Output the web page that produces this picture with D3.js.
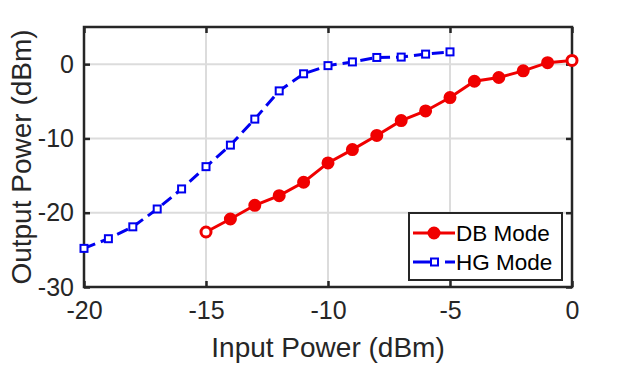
<!DOCTYPE html>
<html><head><meta charset="utf-8">
<script src="https://cdn.jsdelivr.net/npm/d3@7/dist/d3.min.js"></script>
<style>body{margin:0;background:#fff}svg{display:block}text{font-family:"Liberation Sans",Arial,sans-serif}</style>
</head><body><svg id="c" width="632" height="365"></svg>
<script>
const dbX = [-15,-14,-13,-12,-11,-10,-9,-8,-7,-6,-5,-4,-3,-2,-1,0];
const dbY = [-22.6,-20.85,-19.0,-17.7,-15.9,-13.3,-11.5,-9.6,-7.6,-6.3,-4.5,-2.3,-1.8,-0.9,0.2,0.5];
const hgX = [-20,-19,-18,-17,-16,-15,-14,-13,-12,-11,-10,-9,-8,-7,-6,-5];
const hgY = [-24.8,-23.5,-21.9,-19.5,-16.8,-13.8,-10.9,-7.4,-3.6,-1.3,-0.2,0.3,0.9,0.95,1.35,1.65];
const xTicks = [-20,-15,-10,-5,0];
const yTicks = [-30,-20,-10,0];
const seriesNames = ["DB Mode","HG Mode"];

const svg = d3.select("#c");
const L=84, R=572, T=27, B=287;
const x = d3.scaleLinear().domain([-20,0]).range([L,R]);
const y = d3.scaleLinear().domain([-30,5]).range([B,T]);
const fmt = d => String(d);

// grid
const g = svg.append("g");
g.selectAll(".vg").data(xTicks).join("line").attr("x1",d=>x(d)).attr("x2",d=>x(d)).attr("y1",T).attr("y2",B)
  .attr("stroke","#dcdcdc").attr("stroke-width",2);
g.selectAll(".hg").data(yTicks).join("line").attr("y1",d=>y(d)).attr("y2",d=>y(d)).attr("x1",L).attr("x2",R)
  .attr("stroke","#dcdcdc").attr("stroke-width",2);

// axes with inward ticks
const ax = svg.append("g").attr("transform",`translate(0,${B})`).call(d3.axisBottom(x).tickValues(xTicks).tickSizeInner(-6).tickSizeOuter(0).tickPadding(14).tickFormat(fmt));
const ay = svg.append("g").attr("transform",`translate(${L},0)`).call(d3.axisLeft(y).tickValues(yTicks).tickSizeInner(-6).tickSizeOuter(0).tickPadding(10).tickFormat(fmt));
const axT = svg.append("g").attr("transform",`translate(0,${T})`).call(d3.axisTop(x).tickValues(xTicks).tickSizeInner(-6).tickSizeOuter(0).tickFormat(""));
const ayR = svg.append("g").attr("transform",`translate(${R},0)`).call(d3.axisRight(y).tickValues(yTicks).tickSizeInner(-6).tickSizeOuter(0).tickFormat(""));
[ax,ay,axT,ayR].forEach(a=>{a.select(".domain").remove();a.selectAll(".tick line").attr("stroke","#262626").attr("stroke-width",2.5);
  a.selectAll(".tick text").attr("font-size",25).attr("fill","#262626").attr("font-family","Liberation Sans, Arial, sans-serif");});
ax.selectAll(".tick text").attr("dy","0.71em");
svg.append("rect").attr("x",L).attr("y",T).attr("width",R-L).attr("height",B-T).attr("fill","none").attr("stroke","#262626").attr("stroke-width",2.5);

// titles
svg.append("text").attr("x",(L+R)/2).attr("y",357).attr("text-anchor","middle").attr("font-size",28).attr("fill","#262626").text("Input Power (dBm)");
svg.append("text").attr("transform",`translate(31,${(T+B)/2}) rotate(-90)`).attr("text-anchor","middle").attr("font-size",28).attr("fill","#262626").text("Output Power (dBm)");

// HG series
const hg = hgX.map((v,i)=>[v,hgY[i]]);
svg.append("path").attr("d",d3.line().x(d=>x(d[0])).y(d=>y(d[1]))(hg)).attr("fill","none").attr("stroke","#0000f0").attr("stroke-width",3).attr("stroke-dasharray","12,6");
svg.selectAll(".hgm").data(hg).join("rect").attr("x",d=>x(d[0])-3.5).attr("y",d=>y(d[1])-3.5).attr("width",7).attr("height",7)
  .attr("fill","#fff").attr("stroke","#0000f0").attr("stroke-width",2);

// DB series
const db = dbX.map((v,i)=>[v,dbY[i]]);
svg.append("path").attr("d",d3.line().x(d=>x(d[0])).y(d=>y(d[1]))(db)).attr("fill","none").attr("stroke","#f00000").attr("stroke-width",3);
svg.selectAll(".dbm").data(db).join("circle").attr("cx",d=>x(d[0])).attr("cy",d=>y(d[1])).attr("r",5)
  .attr("fill",(d,i)=>(i===0||i===db.length-1)?"#fff":"#f00000").attr("stroke","#f00000").attr("stroke-width",3);

// legend
const lg = svg.append("g");
lg.append("rect").attr("x",409).attr("y",213).attr("width",153).attr("height",67).attr("fill","#fff").attr("stroke","#262626").attr("stroke-width",2);
const rows = [{name:seriesNames[0],y:233},{name:seriesNames[1],y:262}];
lg.append("line").attr("x1",413).attr("x2",455).attr("y1",233).attr("y2",233).attr("stroke","#f00000").attr("stroke-width",3);
lg.append("circle").attr("cx",434).attr("cy",233).attr("r",5).attr("fill","#f00000").attr("stroke","#f00000").attr("stroke-width",3);
lg.append("line").attr("x1",413).attr("x2",455).attr("y1",262).attr("y2",262).attr("stroke","#0000f0").attr("stroke-width",3).attr("stroke-dasharray","25,7,12");
lg.append("rect").attr("x",431).attr("y",258.5).attr("width",7).attr("height",7).attr("fill","#fff").attr("stroke","#0000f0").attr("stroke-width",2);
lg.selectAll(".lt").data(rows).join("text").attr("x",456).attr("y",d=>d.y).attr("dy","0.36em").attr("font-size",22.5).attr("fill","#000").text(d=>d.name);
</script></body></html>
